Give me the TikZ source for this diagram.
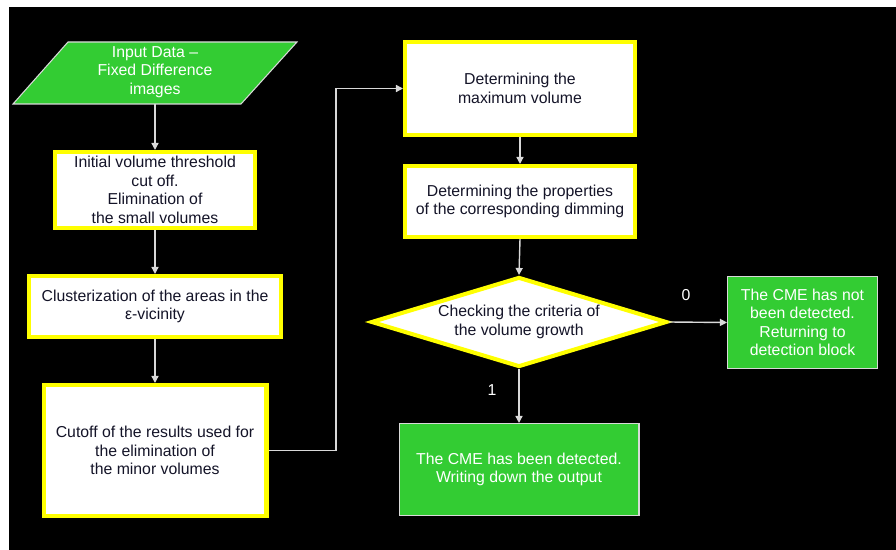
\documentclass[tikz,border=0pt]{standalone}
\usepackage{fontspec}
\setmainfont{Liberation Sans}
\usetikzlibrary{shapes.geometric,arrows.meta}
\definecolor{pgreen}{HTML}{33CC33}
\definecolor{pyellow}{HTML}{FFFF00}
\definecolor{plink}{HTML}{D9D9D9}
\definecolor{ptext}{HTML}{141428}
\tikzset{
  ybox/.style={draw=pyellow, line width=2.3pt, fill=white, text=ptext, align=center,
    inner sep=0pt, font=\fontsize{9}{10.5}\selectfont},
  gbox/.style={draw=plink, line width=0.6pt, fill=pgreen, text=white, align=center,
    inner sep=0pt, font=\fontsize{9}{10.5}\selectfont},
  link/.style={draw=plink, line width=0.8pt, -{Triangle[length=4pt,width=4pt]}},
  lbl/.style={text=white, font=\fontsize{9}{10.5}\selectfont}
}
\begin{document}
\begin{tikzpicture}[x=0.02cm,y=-0.02cm]
\useasboundingbox (0,0) rectangle (896,550);
\fill[black] (9,7) rectangle (896,550);
% input parallelogram
\coordinate (p1) at (68,42);
\coordinate (p2) at (297,42);
\coordinate (p3) at (241,104);
\coordinate (p4) at (13,104);
\filldraw[fill=pgreen, draw=plink, line width=0.6pt] (p1) -- (p2) -- (p3) -- (p4) -- cycle;
\node[text=white, align=center, font=\fontsize{9}{10.5}\selectfont] (input) at (155,72) {Input Data --\\Fixed Difference\\images};
\coordinate (inb) at (155,104);
% boxes
\node[ybox, minimum width=4.00cm, minimum height=1.52cm] (init) at (155,190)
  {Initial volume threshold\\cut off.\\Elimination of\\the small volumes};
\node[ybox, minimum width=5.06cm, minimum height=1.22cm] (clus) at (155,306.5)
  {Clusterization of the areas in the\\ε-vicinity};
\node[ybox, minimum width=4.46cm, minimum height=2.62cm] (cut) at (155,450.5)
  {Cutoff of the results used for\\the elimination of\\the minor volumes};
\node[ybox, minimum width=4.60cm, minimum height=1.86cm] (max) at (520,88.5)
  {Determining the\\maximum volume};
\node[ybox, minimum width=4.60cm, minimum height=1.42cm] (prop) at (520,201.5)
  {Determining the properties\\of the corresponding dimming};
\node[diamond, aspect=3.3, draw=pyellow, line width=2.3pt, fill=white, text=ptext,
  align=center, inner sep=0pt, minimum width=5.92cm, minimum height=1.8cm,
  font=\fontsize{9}{10.5}\selectfont] (chk) at (519,322)
  {Checking the criteria of\\the volume growth};
\node[gbox, minimum width=3.00cm, minimum height=1.84cm] (notdet) at (802.5,322.5)
  {The CME has not\\been detected.\\Returning to\\detection block};
\node[gbox, minimum width=4.80cm, minimum height=1.84cm] (det) at (519,469.5)
  {The CME has been detected.\\Writing down the output};
% connectors
\draw[link] (inb) -- (init.north);
\draw[link] (init.south) -- (clus.north);
\draw[link] (clus.south) -- (cut.north);
\coordinate (turn) at (336,450.5);
\draw[link] (cut.east) -- (turn) |- (max.west);
\draw[link] (max.south) -- (prop.north);
\draw[link] (prop.south) -- (chk.north);
\draw[link] (chk.east) -- (notdet.west);
\draw[link] (chk.south) -- (det.north);
\node[lbl] (zero) at (686,295) {0};
\node[lbl] (one) at (492,390) {1};
\end{tikzpicture}
\end{document}
